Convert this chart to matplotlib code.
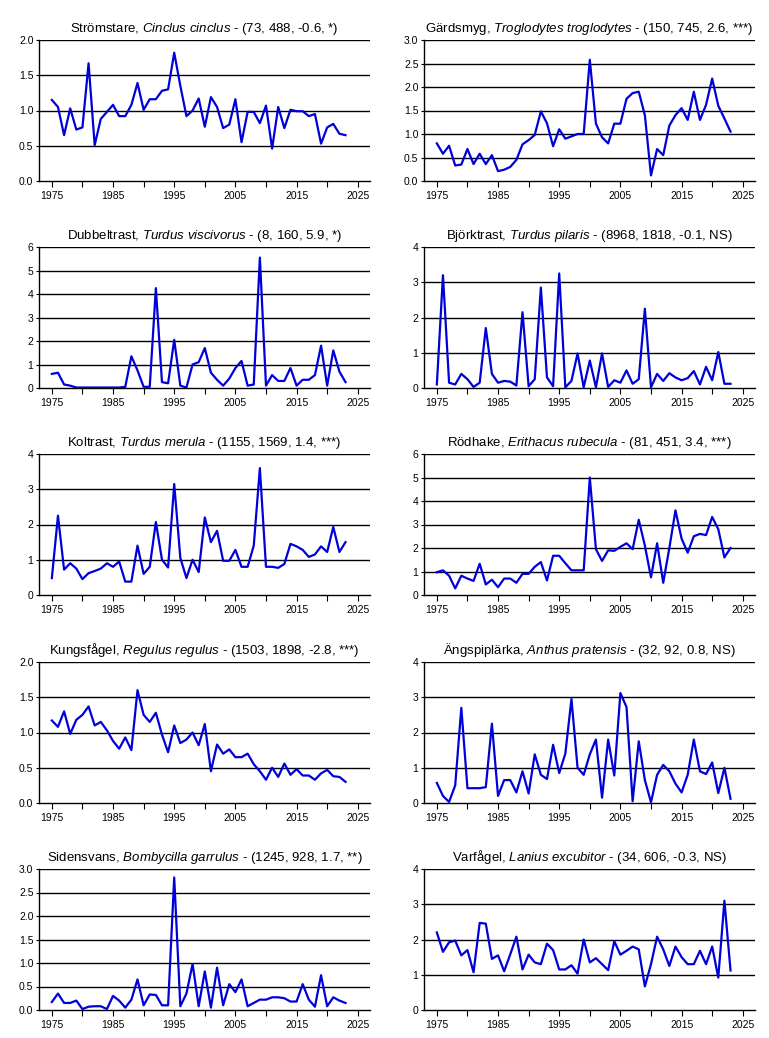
import matplotlib
matplotlib.use("Agg")
import matplotlib.pyplot as plt
import numpy as np

years = list(range(1975, 2024))

# Swedish name, latin name, stats text, ymax, ystep, decimals
names = ["Strömstare", "Gärdsmyg", "Dubbeltrast", "Björktrast", "Koltrast",
         "Rödhake", "Kungsfågel", "Ängspiplärka", "Sidensvans", "Varfågel"]
latin = ["Cinclus cinclus", "Troglodytes troglodytes", "Turdus viscivorus",
         "Turdus pilaris", "Turdus merula", "Erithacus rubecula", "Regulus regulus",
         "Anthus pratensis", "Bombycilla garrulus", "Lanius excubitor"]
stats = ["(73, 488, -0.6, *)", "(150, 745, 2.6, ***)", "(8, 160, 5.9, *)",
         "(8968, 1818, -0.1, NS)", "(1155, 1569, 1.4, ***)", "(81, 451, 3.4, ***)",
         "(1503, 1898, -2.8, ***)", "(32, 92, 0.8, NS)", "(1245, 928, 1.7, **)",
         "(34, 606, -0.3, NS)"]
ymax = [2.0, 3.0, 6, 4, 4, 6, 2.0, 4, 3.0, 4]
ystep = [0.5, 0.5, 1, 1, 1, 1, 0.5, 1, 0.5, 1]

stromstare = [1.15, 1.05, 0.65, 1.03, 0.73, 0.76, 1.67, 0.51, 0.88, 0.98,
              1.08, 0.92, 0.92, 1.08, 1.39, 1.01, 1.16, 1.16, 1.28, 1.30,
              1.82, 1.35, 0.92, 1.00, 1.17, 0.77, 1.19, 1.05, 0.75, 0.80,
              1.16, 0.55, 0.98, 0.98, 0.82, 1.07, 0.46, 1.05, 0.75, 1.01,
              0.99, 0.99, 0.92, 0.95, 0.53, 0.76, 0.81, 0.67, 0.65]
gardsmyg = [0.80, 0.58, 0.75, 0.33, 0.35, 0.68, 0.36, 0.58, 0.36, 0.55,
            0.21, 0.24, 0.30, 0.45, 0.78, 0.87, 0.98, 1.48, 1.23, 0.74,
            1.10, 0.90, 0.95, 1.00, 1.00, 2.58, 1.22, 0.93, 0.80, 1.22,
            1.22, 1.75, 1.87, 1.90, 1.40, 0.12, 0.68, 0.55, 1.18, 1.40,
            1.55, 1.30, 1.90, 1.30, 1.62, 2.18, 1.60, 1.33, 1.05]
dubbeltrast = [0.60, 0.65, 0.15, 0.10, 0.02, 0.02, 0.02, 0.02, 0.02, 0.02,
               0.02, 0.02, 0.05, 1.35, 0.75, 0.05, 0.05, 4.25, 0.25, 0.20,
               2.05, 0.10, 0.02, 1.00, 1.10, 1.70, 0.65, 0.35, 0.10, 0.40,
               0.85, 1.15, 0.10, 0.15, 5.55, 0.10, 0.55, 0.30, 0.30, 0.85,
               0.10, 0.35, 0.35, 0.55, 1.80, 0.10, 1.60, 0.70, 0.25]
bjorktrast = [0.10, 3.20, 0.15, 0.10, 0.40, 0.25, 0.03, 0.15, 1.70, 0.40,
              0.15, 0.20, 0.18, 0.07, 2.15, 0.05, 0.25, 2.85, 0.30, 0.05,
              3.25, 0.02, 0.20, 0.98, 0.02, 0.78, 0.02, 0.98, 0.03, 0.22,
              0.15, 0.50, 0.12, 0.25, 2.25, 0.02, 0.40, 0.20, 0.42, 0.30,
              0.22, 0.28, 0.48, 0.10, 0.60, 0.22, 1.02, 0.12, 0.12]
koltrast = [0.48, 2.25, 0.72, 0.90, 0.75, 0.45, 0.62, 0.68, 0.75, 0.90,
            0.80, 0.95, 0.38, 0.38, 1.40, 0.60, 0.80, 2.07, 1.00, 0.78,
            3.15, 1.05, 0.48, 1.00, 0.65, 2.20, 1.50, 1.82, 0.97, 0.97,
            1.28, 0.80, 0.80, 1.40, 3.60, 0.80, 0.80, 0.77, 0.88, 1.45,
            1.38, 1.28, 1.08, 1.15, 1.38, 1.22, 1.93, 1.22, 1.50]
rodhake = [0.97, 1.05, 0.82, 0.28, 0.82, 0.70, 0.60, 1.33, 0.45, 0.65,
           0.33, 0.70, 0.70, 0.52, 0.90, 0.90, 1.20, 1.40, 0.62, 1.67,
           1.67, 1.35, 1.05, 1.05, 1.05, 5.00, 1.95, 1.45, 1.90, 1.88,
           2.05, 2.20, 1.95, 3.20, 2.10, 0.75, 2.20, 0.52, 2.00, 3.60,
           2.40, 1.80, 2.50, 2.60, 2.55, 3.32, 2.80, 1.60, 2.00]
kungsfagel = [1.17, 1.08, 1.30, 0.98, 1.18, 1.25, 1.37, 1.10, 1.15, 1.03,
              0.88, 0.77, 0.93, 0.75, 1.60, 1.25, 1.15, 1.28, 0.97, 0.72,
              1.10, 0.85, 0.90, 1.00, 0.82, 1.12, 0.45, 0.83, 0.70, 0.76,
              0.65, 0.65, 0.70, 0.55, 0.45, 0.33, 0.50, 0.37, 0.56, 0.40,
              0.48, 0.39, 0.39, 0.33, 0.42, 0.47, 0.38, 0.37, 0.30]
angspiplarka = [0.57, 0.20, 0.03, 0.50, 2.70, 0.42, 0.42, 0.42, 0.45, 2.25,
                0.20, 0.65, 0.65, 0.30, 0.90, 0.27, 1.38, 0.80, 0.68, 1.65,
                0.85, 1.40, 2.95, 1.00, 0.80, 1.38, 1.80, 0.15, 1.80, 0.78,
                3.12, 2.72, 0.05, 1.75, 0.65, 0.02, 0.80, 1.08, 0.90, 0.55,
                0.30, 0.80, 1.80, 0.90, 0.82, 1.15, 0.28, 1.00, 0.12]
sidensvans = [0.17, 0.35, 0.15, 0.15, 0.20, 0.02, 0.07, 0.08, 0.08, 0.02,
              0.30, 0.20, 0.05, 0.22, 0.65, 0.10, 0.33, 0.32, 0.10, 0.10,
              2.82, 0.08, 0.35, 0.98, 0.08, 0.82, 0.05, 0.90, 0.10, 0.55,
              0.38, 0.65, 0.08, 0.15, 0.22, 0.22, 0.27, 0.27, 0.25, 0.18,
              0.18, 0.55, 0.22, 0.07, 0.74, 0.08, 0.27, 0.20, 0.15]
varfagel = [2.20, 1.65, 1.92, 1.97, 1.55, 1.70, 1.07, 2.47, 2.45, 1.45,
            1.55, 1.10, 1.58, 2.08, 1.15, 1.57, 1.35, 1.30, 1.88, 1.70,
            1.15, 1.15, 1.27, 1.03, 2.00, 1.35, 1.47, 1.30, 1.13, 1.95,
            1.57, 1.68, 1.80, 1.72, 0.67, 1.30, 2.08, 1.72, 1.25, 1.80,
            1.50, 1.30, 1.30, 1.68, 1.30, 1.80, 0.92, 3.10, 1.12]

series = [stromstare, gardsmyg, dubbeltrast, bjorktrast, koltrast,
          rodhake, kungsfagel, angspiplarka, sidensvans, varfagel]

plt.rcParams['font.family'] = ['Liberation Sans', 'DejaVu Sans']
plt.rcParams['mathtext.fontset'] = 'custom'
plt.rcParams['mathtext.rm'] = 'Liberation Sans'
plt.rcParams['mathtext.it'] = 'Liberation Sans:italic'

W, H = 769, 1038
fig = plt.figure(figsize=(W / 100, H / 100), dpi=100)

col_left = [39, 424]
row_top = [40, 247, 454, 662, 869]
ax_w, ax_h = 331, 141

for i in range(10):
    r, c = divmod(i, 2)
    ax = fig.add_axes([col_left[c] / W, 1 - (row_top[r] + ax_h) / H, ax_w / W, ax_h / H])
    ax.plot(years, series[i], color='#0000D8', lw=1.6, zorder=3)
    ax.set_xlim(1972.9, 2027)
    ax.set_ylim(0, ymax[i])
    yt = np.arange(0, ymax[i] + ystep[i] / 2, ystep[i])
    ax.set_yticks(yt)
    if ystep[i] < 1:
        ax.set_yticklabels(["%.1f" % v for v in yt])
    else:
        ax.set_yticklabels(["%d" % v for v in yt])
    for v in yt[1:]:
        ax.axhline(v, color='black', lw=1.0, zorder=1)
    ax.set_xticks(range(1975, 2026, 10))
    ax.set_xticks(range(1980, 2021, 10), minor=True)
    ax.tick_params(axis='x', which='both', direction='out', length=4, width=0.8, labelsize=7.5, pad=3)
    ax.tick_params(axis='y', direction='out', length=2, width=0.8, labelsize=7.5, pad=2)
    for s in ['top', 'right']:
        ax.spines[s].set_visible(False)
    for s in ['left', 'bottom']:
        ax.spines[s].set_linewidth(1.0)
    lat = latin[i].replace(" ", r"\ ")
    ax.set_title(names[i] + ", $\\mathit{" + lat + "}$ - " + stats[i],
                 fontsize=9.5, pad=6)

plt.savefig('out.png', dpi=100)
